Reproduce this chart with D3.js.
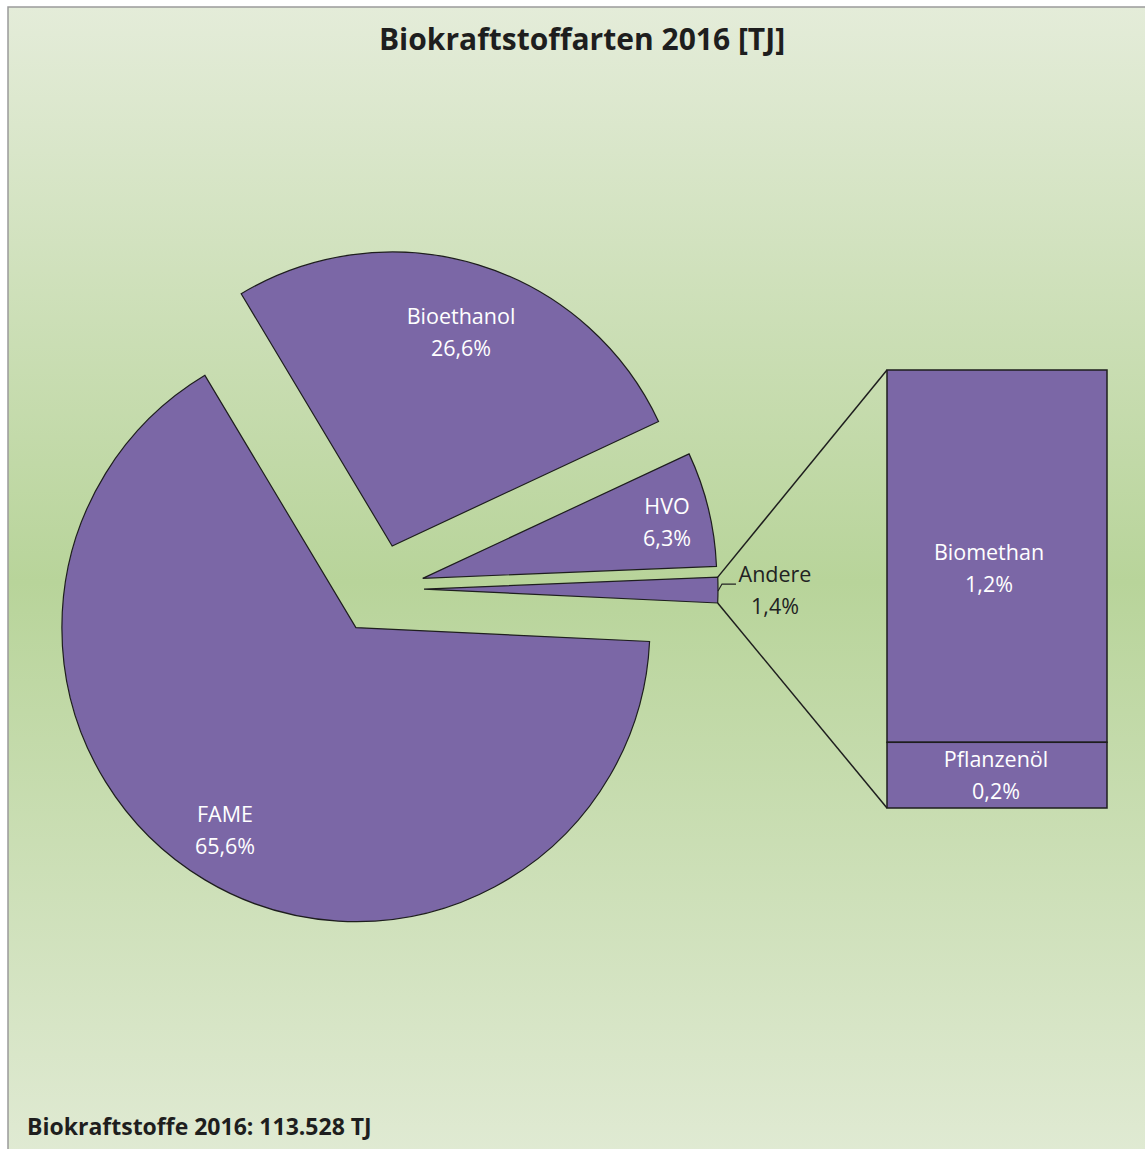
<!DOCTYPE html>
<html>
<head>
<meta charset="utf-8">
<script src="https://cdn.jsdelivr.net/npm/d3@7"></script>
<style>
  body { margin: 0; background: #fff; }
  text { font-family: "Open Sans", Lato, sans-serif; }
</style>
</head>
<body>
<div id="chart"></div>
<script>
// pie categories and shares (%)
const pieNames = ['FAME', 'Bioethanol', 'HVO', 'Andere'];
const pieValues = [65.6, 26.6, 6.3, 1.4];
// secondary stacked bar ("Andere" split)
const barNames = ['Biomethan', 'Pflanzenöl'];
const barValues = [1.19, 0.21];
const barLabels = ['1,2%', '0,2%'];
const title = 'Biokraftstoffarten 2016 [TJ]';
const footer = 'Biokraftstoffe 2016: 113.528 TJ';

const width = 1145, height = 1149;
const fill = '#7b67a6';
const fmt = v => d3.format('.1f')(v).replace('.', ',') + '%';

const svg = d3.select('#chart').append('svg')
  .attr('width', width)
  .attr('height', height);

// background gradient
const grad = svg.append('defs').append('linearGradient')
  .attr('id', 'bg').attr('x1', 0).attr('y1', 0).attr('x2', 0).attr('y2', 1);
grad.append('stop').attr('offset', '0%').attr('stop-color', '#e4ecd9');
grad.append('stop').attr('offset', '50%').attr('stop-color', '#b8d49a');
grad.append('stop').attr('offset', '100%').attr('stop-color', '#e0ead3');

svg.append('rect')
  .attr('x', 8).attr('y', 7)
  .attr('width', width).attr('height', height)
  .attr('fill', 'url(#bg)')
  .attr('stroke', '#9a9a9a')
  .attr('stroke-width', 1.5);

// pie
const cx = 379, cy = 589, radius = 294, explode = 45;
const startA = 92.7 * Math.PI / 180;

const pie = d3.pie().sort(null)
  .startAngle(startA)
  .endAngle(startA + 2 * Math.PI);
const arcs = pie(pieValues);
const arc = d3.arc().innerRadius(0).outerRadius(radius);

const g = svg.append('g').attr('transform', `translate(${cx},${cy})`);

const shift = d => {
  const m = (d.startAngle + d.endAngle) / 2;
  return [Math.sin(m) * explode, -Math.cos(m) * explode];
};

g.selectAll('path.slice')
  .data(arcs)
  .join('path')
  .attr('class', 'slice')
  .attr('transform', d => `translate(${shift(d)})`)
  .attr('d', arc)
  .attr('fill', fill)
  .attr('stroke', '#1e1e1e')
  .attr('stroke-width', 1.2);

// pie labels (positions relative to pie centre, as placed in the original)
const labelXY = [[-154, 241], [82, -257], [288, -67], [396, 1]];
const labelG = g.selectAll('g.lbl')
  .data(arcs)
  .join('g')
  .attr('class', 'lbl')
  .attr('transform', (d, i) => `translate(${labelXY[i]})`);
labelG.append('text')
  .attr('text-anchor', 'middle')
  .attr('y', -8)
  .attr('font-size', 21.5)
  .attr('fill', (d, i) => i === 3 ? '#222' : '#fff')
  .text((d, i) => pieNames[i]);
labelG.append('text')
  .attr('text-anchor', 'middle')
  .attr('y', 24)
  .attr('font-size', 21.5)
  .attr('fill', (d, i) => i === 3 ? '#222' : '#fff')
  .text((d, i) => fmt(pieValues[i]));

// leader line for "Andere"
const andere = arcs[3];
const am = (andere.startAngle + andere.endAngle) / 2;
const [ax, ay] = shift(andere);
const ex = ax + Math.sin(am) * radius, ey = ay - Math.cos(am) * radius;
g.append('path')
  .attr('d', `M${ex},${ey + 1}L${ex + 4},${ey - 6}L${ex + 18},${ey - 6}`)
  .attr('fill', 'none')
  .attr('stroke', '#222')
  .attr('stroke-width', 1.2);

// secondary bar
const barX = 887, barW = 220, barTop = 370, barBottom = 808;
const y = d3.scaleLinear()
  .domain([0, d3.sum(barValues)])
  .range([barTop, barBottom]);
let acc = 0;
const barData = barValues.map((v, i) => {
  const d = {name: barNames[i], label: barLabels[i], y0: acc, y1: acc + v};
  acc += v;
  return d;
});

// connector lines from the "Andere" slice to the bar
const a0 = andere.startAngle, a1 = andere.endAngle;
const p0 = [cx + ax + Math.sin(a0) * radius, cy + ay - Math.cos(a0) * radius];
const p1 = [cx + ax + Math.sin(a1) * radius, cy + ay - Math.cos(a1) * radius];
svg.append('line')
  .attr('x1', p0[0]).attr('y1', p0[1])
  .attr('x2', barX).attr('y2', y(0))
  .attr('stroke', '#1e1e1e').attr('stroke-width', 1.5);
svg.append('line')
  .attr('x1', p1[0]).attr('y1', p1[1])
  .attr('x2', barX).attr('y2', y(d3.sum(barValues)))
  .attr('stroke', '#1e1e1e').attr('stroke-width', 1.5);

svg.selectAll('rect.bar')
  .data(barData)
  .join('rect')
  .attr('class', 'bar')
  .attr('x', barX)
  .attr('y', d => y(d.y0))
  .attr('width', barW)
  .attr('height', d => y(d.y1) - y(d.y0))
  .attr('fill', fill)
  .attr('stroke', '#1e1e1e')
  .attr('stroke-width', 1.5);

const barLbl = svg.selectAll('g.barlbl')
  .data(barData)
  .join('g')
  .attr('class', 'barlbl')
  .attr('transform', (d, i) => i === 0
    ? `translate(${barX + barW / 2 - 8},${(y(d.y0) + y(d.y1)) / 2 + 12})`
    : `translate(${barX + barW / 2 - 1},${(y(d.y0) + y(d.y1)) / 2})`);
barLbl.append('text')
  .attr('text-anchor', 'middle')
  .attr('y', -8)
  .attr('font-size', 21.5)
  .attr('fill', '#fff')
  .text(d => d.name);
barLbl.append('text')
  .attr('text-anchor', 'middle')
  .attr('y', 24)
  .attr('font-size', 21.5)
  .attr('fill', '#fff')
  .text(d => d.label);

// title and footer
svg.append('text')
  .attr('x', 582).attr('y', 50)
  .attr('text-anchor', 'middle')
  .attr('font-size', 30)
  .attr('font-weight', 'bold')
  .attr('fill', '#1e1e1e')
  .text(title);

svg.append('text')
  .attr('x', 27).attr('y', 1135)
  .attr('font-size', 23)
  .attr('font-weight', 'bold')
  .attr('fill', '#1e1e1e')
  .text(footer);
</script>
</body>
</html>
